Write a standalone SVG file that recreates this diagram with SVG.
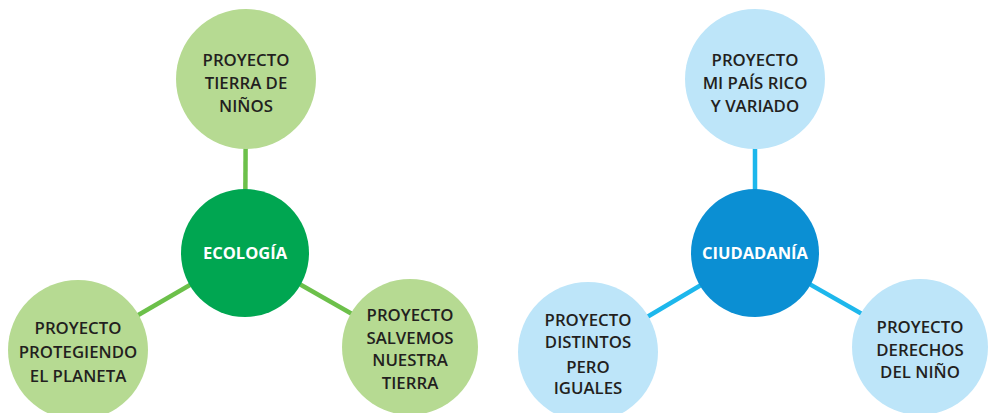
<svg xmlns="http://www.w3.org/2000/svg" width="988" height="413" viewBox="0 0 988 413">
<style>
.gl{stroke:#6cc04a;stroke-width:4.5;fill:none}
.bl{stroke:#1db7ec;stroke-width:4.5;fill:none}
.lg{fill:#b6da92}
.dg{fill:#00a651}
.lb{fill:#bde5f9}
.db{fill:#0b8fd3}
text{font-family:"Open Sans","Noto Sans",sans-serif;font-weight:600;font-size:16.8px;text-anchor:middle;fill:#231f20}
.w{fill:#ffffff;font-weight:700;font-size:16.5px}
</style>
<rect width="988" height="413" fill="#ffffff"/>
<g id="connectors">
<line class="gl" x1="246" y1="80" x2="245" y2="253"/>
<line class="gl" x1="245" y1="253" x2="78" y2="350"/>
<line class="gl" x1="245" y1="253" x2="410" y2="347"/>
<line class="bl" x1="755" y1="80" x2="755" y2="253"/>
<line class="bl" x1="755" y1="253" x2="588" y2="352"/>
<line class="bl" x1="755" y1="253" x2="920" y2="347"/>
</g>
<g id="tierra">
<circle class="lg" cx="246" cy="79" r="70"/>
<text x="246" y="66">PROYECTO</text>
<text x="246" y="89">TIERRA DE</text>
<text x="246" y="112">NIÑOS</text>
</g>
<g id="ecologia">
<circle class="dg" cx="245" cy="253" r="64"/>
<text class="w" x="245" y="259">ECOLOGÍA</text>
</g>
<g id="protegiendo">
<circle class="lg" cx="78" cy="350" r="70"/>
<text x="78" y="334">PROYECTO</text>
<text x="78" y="358">PROTEGIENDO</text>
<text x="78" y="382">EL PLANETA</text>
</g>
<g id="salvemos">
<circle class="lg" cx="410" cy="347" r="68"/>
<text x="410" y="321">PROYECTO</text>
<text x="410" y="344">SALVEMOS</text>
<text x="410" y="366">NUESTRA</text>
<text x="410" y="389">TIERRA</text>
</g>
<g id="mipais">
<circle class="lb" cx="755" cy="79" r="70"/>
<text x="755" y="66">PROYECTO</text>
<text x="755" y="89">MI PAÍS RICO</text>
<text x="755" y="112">Y VARIADO</text>
</g>
<g id="ciudadania">
<circle class="db" cx="755" cy="253" r="64"/>
<text class="w" x="755" y="259">CIUDADANÍA</text>
</g>
<g id="distintos">
<circle class="lb" cx="588" cy="352" r="70"/>
<text x="588" y="326">PROYECTO</text>
<text x="588" y="348">DISTINTOS</text>
<text x="588" y="373">PERO</text>
<text x="588" y="394">IGUALES</text>
</g>
<g id="derechos">
<circle class="lb" cx="920" cy="347" r="68"/>
<text x="920" y="333">PROYECTO</text>
<text x="920" y="356">DERECHOS</text>
<text x="920" y="378">DEL NIÑO</text>
</g>
</svg>
